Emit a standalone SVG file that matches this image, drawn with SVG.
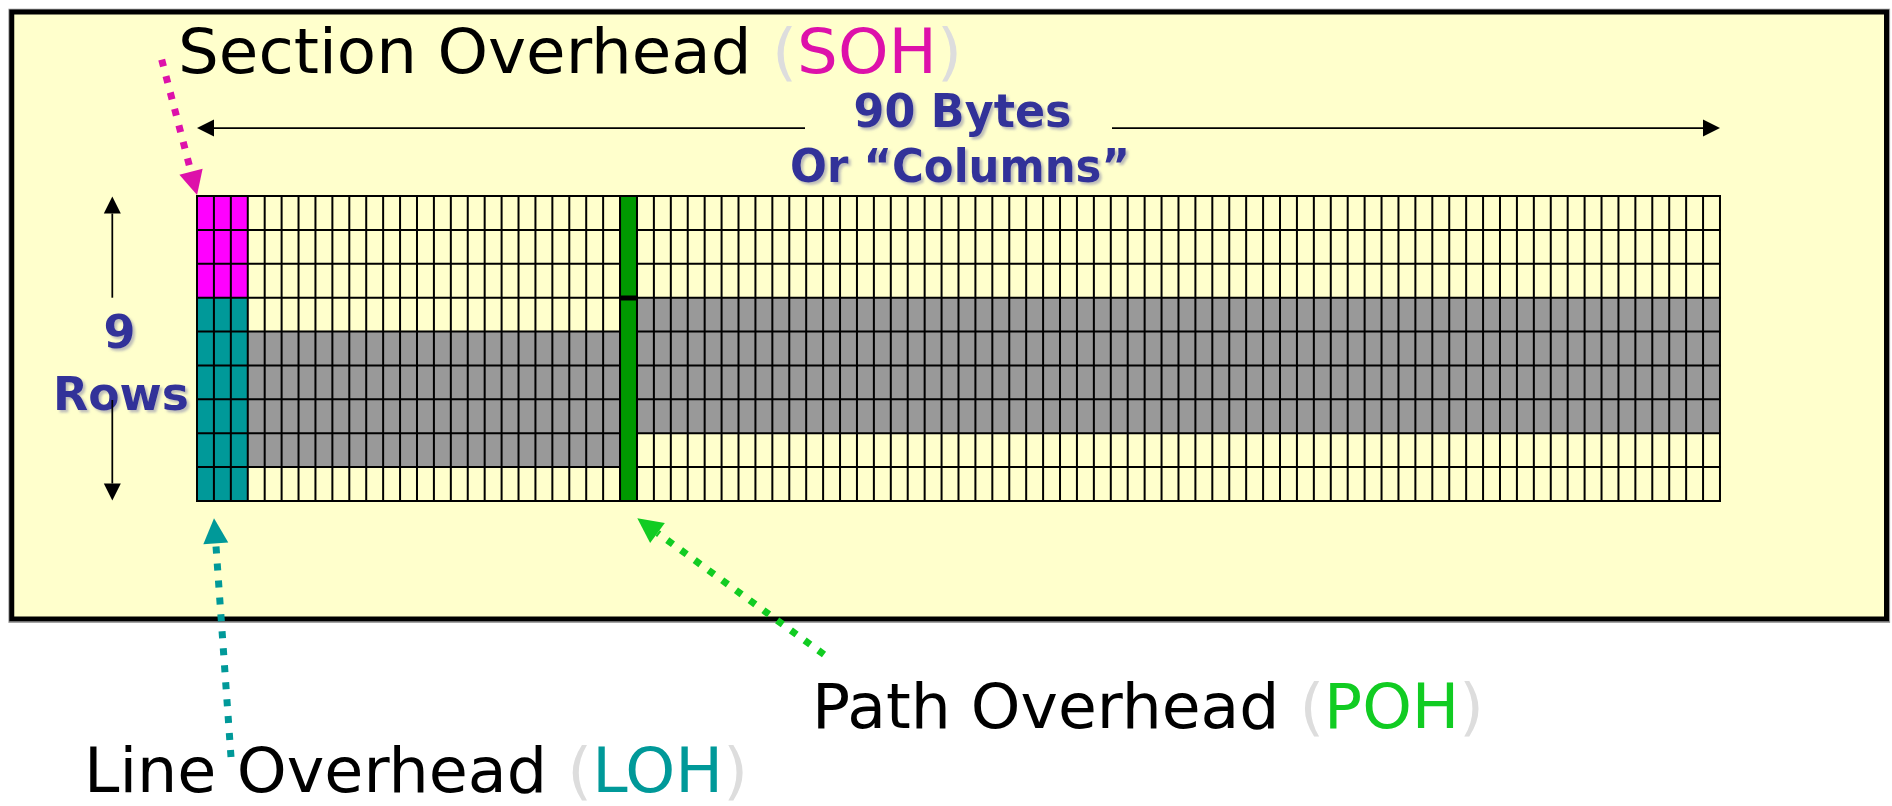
<svg xmlns="http://www.w3.org/2000/svg" width="1892" height="806" viewBox="0 0 1892 806">
<style>
.hand{font-family:"DejaVu Sans","Noto Sans",sans-serif;font-size:63px;fill:#000}
.par{fill:#DDDDDD}
.bold{font-family:"DejaVu Sans","Liberation Sans",sans-serif;font-weight:bold;font-size:46px;fill:#333399;text-anchor:middle}
.gl{fill:none;stroke:#000;stroke-width:2}
.blk{fill:none;stroke:#000;stroke-width:1.75}
.dot{fill:none;stroke-width:7;stroke-dasharray:7 10}
</style>
<defs>
<marker id="ah" markerUnits="userSpaceOnUse" markerWidth="17" markerHeight="17" refX="0" refY="8.5" orient="auto" overflow="visible"><path d="M0,0 L17,8.5 L0,17 z" fill="#000"/></marker>
<marker id="am" markerUnits="userSpaceOnUse" markerWidth="24" markerHeight="24" refX="0" refY="12" orient="auto" overflow="visible"><path d="M0,0 L24,12 L0,24 z" fill="#DD11AA"/></marker>
<marker id="at" markerUnits="userSpaceOnUse" markerWidth="25" markerHeight="25" refX="0" refY="12.5" orient="auto" overflow="visible"><path d="M0,0 L25,12.5 L0,25 z" fill="#009999"/></marker>
<marker id="ag" markerUnits="userSpaceOnUse" markerWidth="25" markerHeight="25" refX="0" refY="12.5" orient="auto" overflow="visible"><path d="M0,0 L25,12.5 L0,25 z" fill="#11CC22"/></marker>
<filter id="sh" x="-10%" y="-20%" width="130%" height="150%"><feDropShadow dx="2.5" dy="2.5" stdDeviation="1.2" flood-color="#8888AA" flood-opacity="0.55"/></filter>
</defs>
<rect width="1892" height="806" fill="#FFFFFF"/>
<g id="frame">
<rect x="9" y="9.3" width="1880.5" height="613" fill="none" stroke="#999" stroke-width="1.2"/>
<rect x="11.75" y="12" width="1874.75" height="607" fill="#FFFFCC" stroke="#000" stroke-width="5"/>
</g>
<g id="frame-grid">
<g id="soh"><rect x="197" y="196" width="50.77" height="101.67" fill="#FF00FF"/></g>
<g id="loh"><rect x="197" y="297.67" width="50.77" height="203.33" fill="#009999"/></g>
<g id="payload">
<rect x="247.77" y="331.56" width="372.28" height="135.55" fill="#999999"/>
<rect x="636.97" y="297.67" width="1083.01" height="135.55" fill="#999999"/>
</g>
<path class="gl" d="M197 196v305M213.92 196v305M230.84 196v305M247.77 196v305M264.69 196v305M281.61 196v305M298.53 196v305M315.45 196v305M332.38 196v305M349.3 196v305M366.22 196v305M383.14 196v305M400.06 196v305M416.99 196v305M433.91 196v305M450.83 196v305M467.75 196v305M484.67 196v305M501.6 196v305M518.52 196v305M535.44 196v305M552.36 196v305M569.28 196v305M586.21 196v305M603.13 196v305M620.05 196v305M636.97 196v305M653.89 196v305M670.82 196v305M687.74 196v305M704.66 196v305M721.58 196v305M738.5 196v305M755.43 196v305M772.35 196v305M789.27 196v305M806.19 196v305M823.11 196v305M840.04 196v305M856.96 196v305M873.88 196v305M890.8 196v305M907.72 196v305M924.65 196v305M941.57 196v305M958.49 196v305M975.41 196v305M992.33 196v305M1009.26 196v305M1026.18 196v305M1043.1 196v305M1060.02 196v305M1076.94 196v305M1093.87 196v305M1110.79 196v305M1127.71 196v305M1144.63 196v305M1161.55 196v305M1178.48 196v305M1195.4 196v305M1212.32 196v305M1229.24 196v305M1246.16 196v305M1263.09 196v305M1280.01 196v305M1296.93 196v305M1313.85 196v305M1330.77 196v305M1347.7 196v305M1364.62 196v305M1381.54 196v305M1398.46 196v305M1415.38 196v305M1432.31 196v305M1449.23 196v305M1466.15 196v305M1483.07 196v305M1499.99 196v305M1516.92 196v305M1533.84 196v305M1550.76 196v305M1567.68 196v305M1584.6 196v305M1601.53 196v305M1618.45 196v305M1635.37 196v305M1652.29 196v305M1669.21 196v305M1686.14 196v305M1703.06 196v305M1719.98 196v305"/>
<path class="gl" d="M196 196H1721M196 229.89H1721M196 263.78H1721M196 297.67H1721M196 331.56H1721M196 365.44H1721M196 399.33H1721M196 433.22H1721M196 467.11H1721M196 501H1721"/>
<g id="poh">
<rect x="620.05" y="196" width="16.92" height="305" fill="#009900" stroke="#000" stroke-width="2"/>
<line x1="620.05" y1="298" x2="636.97" y2="298" stroke="#000" stroke-width="5"/>
</g>
</g>
<g id="label-soh"><text class="hand" x="178" y="73" textLength="784" lengthAdjust="spacingAndGlyphs">Section Overhead <tspan class="par">(</tspan><tspan fill="#DD11AA">SOH</tspan><tspan class="par">)</tspan></text></g>
<g id="label-poh"><text class="hand" x="812" y="728" textLength="672" lengthAdjust="spacingAndGlyphs">Path Overhead <tspan class="par">(</tspan><tspan fill="#11CC22">POH</tspan><tspan class="par">)</tspan></text></g>
<g id="label-loh"><text class="hand" x="84" y="792" textLength="664" lengthAdjust="spacingAndGlyphs">Line Overhead <tspan class="par">(</tspan><tspan fill="#009999">LOH</tspan><tspan class="par">)</tspan></text></g>
<g id="label-rows" filter="url(#sh)">
<text class="bold" x="119.5" y="348">9</text>
<text class="bold" x="121" y="410" textLength="136" lengthAdjust="spacingAndGlyphs">Rows</text>
</g>
<g id="label-bytes" filter="url(#sh)">
<text class="bold" x="962.5" y="127" textLength="218" lengthAdjust="spacingAndGlyphs">90 Bytes</text>
<text class="bold" x="960" y="182" textLength="340" lengthAdjust="spacingAndGlyphs">Or “Columns”</text>
</g>
<g id="connectors">
<line class="blk" x1="805" y1="128" x2="214" y2="128" marker-end="url(#ah)"/>
<line class="blk" x1="1112" y1="128" x2="1703" y2="128" marker-end="url(#ah)"/>
<line class="blk" x1="112.3" y1="297.7" x2="112.3" y2="213.5" marker-end="url(#ah)"/>
<line class="blk" x1="112.3" y1="400" x2="112.3" y2="483.5" marker-end="url(#ah)"/>
<line class="dot" stroke="#DD11AA" x1="161.7" y1="59.6" x2="191" y2="171.8" marker-end="url(#am)"/>
<line class="dot" stroke="#009999" x1="231" y1="757" x2="215.8" y2="543.3" marker-end="url(#at)"/>
<line class="dot" stroke="#11CC22" x1="824" y1="654.5" x2="657.5" y2="533" marker-end="url(#ag)"/>
</g>
</svg>
